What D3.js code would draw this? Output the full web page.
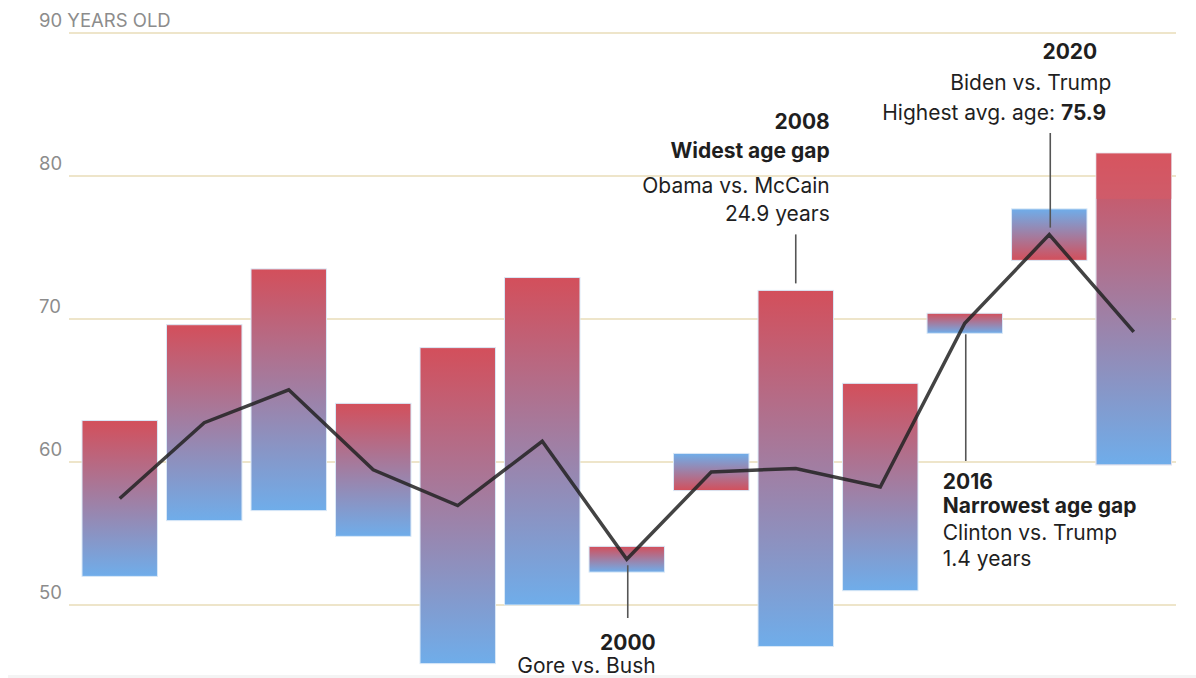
<!DOCTYPE html>
<html>
<head>
<meta charset="utf-8">
<script src="https://cdn.jsdelivr.net/npm/d3@7"></script>
<style>
  html, body { margin: 0; padding: 0; background: #ffffff; }
  svg { display: block; font-family: Inter, "Open Sans", sans-serif; }
</style>
</head>
<body>
<svg id="chart" width="1196" height="678"></svg>
<script>
// Election years
const years = [1976, 1980, 1984, 1988, 1992, 1996, 2000, 2004, 2008, 2012, 2016, 2020, 2024];
// Age of the Republican nominee on election day
const repAges = [62.9, 69.6, 73.5, 64.1, 68.0, 72.9, 54.1, 58.0, 72.0, 65.5, 70.4, 74.1, 78.4];
// Age of the Democratic nominee on election day
const demAges = [52.0, 55.9, 56.6, 54.8, 45.9, 50.0, 52.3, 60.6, 47.1, 51.0, 69.0, 77.7, 59.8];
// 2024: age of the Democratic incumbent before withdrawing
const withdrawnYears = [2024];
const withdrawnAges = [81.6];
// Y axis ticks
const yTicks = [50, 60, 70, 80, 90];
const yTickLabels = ["50", "60", "70", "80", "90 YEARS OLD"];

const data = years.map((y, i) => ({
  year: y, rep: repAges[i], dem: demAges[i], avg: (repAges[i] + demAges[i]) / 2
}));

const RED = "#d34f5b";
const BLUE = "#6fadea";

const svg = d3.select("#chart");

const x = d3.scaleBand()
  .domain(years)
  .range([77.5, 1176])
  .paddingInner(0.107)
  .paddingOuter(0.0533);

const y = d3.scaleLinear().domain([50, 90]).range([605, 33]);

// faint strip along the bottom edge
svg.append("rect")
  .attr("x", 8).attr("y", 675).attr("width", 1188).attr("height", 3)
  .attr("fill", "#f4f4f4");

// gridlines + labels
const grid = svg.append("g");
grid.selectAll("line").data(yTicks).join("line")
  .attr("x1", 69).attr("x2", 1176)
  .attr("y1", d => y(d)).attr("y2", d => y(d))
  .attr("stroke", "#e9ddb8").attr("stroke-width", 1.5);
grid.selectAll("text").data(yTicks).join("text")
  .attr("x", 39).attr("y", d => y(d) - 6)
  .attr("fill", "#8c8c8c").attr("font-size", 18.5)
  .text((d, i) => yTickLabels[i]);

// per-bar gradients running from the Republican age (red) to the Democratic age (blue)
const defs = svg.append("defs");
data.forEach((d, i) => {
  const g = defs.append("linearGradient")
    .attr("id", "grad" + i)
    .attr("gradientUnits", "userSpaceOnUse")
    .attr("x1", 0).attr("x2", 0)
    .attr("y1", y(d.rep)).attr("y2", y(d.dem));
  g.append("stop").attr("offset", 0).attr("stop-color", RED);
  g.append("stop").attr("offset", 1).attr("stop-color", BLUE);
});

const bars = svg.append("g");
bars.selectAll("rect.range").data(data).join("rect")
  .attr("class", "range")
  .attr("x", d => x(d.year))
  .attr("width", x.bandwidth())
  .attr("y", d => y(Math.max(d.rep, d.dem)))
  .attr("height", d => Math.abs(y(d.rep) - y(d.dem)))
  .attr("fill", (d, i) => `url(#grad${i})`)
  .attr("stroke", "#d9e8f7").attr("stroke-width", 1);

// 2024: range up to the withdrawn nominee's age
const wd = withdrawnYears.map((yr, i) => {
  const d = data.find(e => e.year === yr);
  return { year: yr, top: withdrawnAges[i], rep: d.rep, dem: d.dem };
});
wd.forEach((d, i) => {
  const g = defs.append("linearGradient")
    .attr("id", "gradW" + i)
    .attr("gradientUnits", "userSpaceOnUse")
    .attr("x1", 0).attr("x2", 0)
    .attr("y1", y(d.top)).attr("y2", y(d.dem));
  g.append("stop").attr("offset", 0).attr("stop-color", RED);
  g.append("stop").attr("offset", 1).attr("stop-color", BLUE);
});
bars.selectAll("rect.wfull").data(wd).join("rect")
  .attr("class", "wfull")
  .attr("x", d => x(d.year))
  .attr("width", x.bandwidth())
  .attr("y", d => y(d.top))
  .attr("height", d => y(d.dem) - y(d.top))
  .attr("fill", (d, i) => `url(#gradW${i})`)
  .attr("stroke", "#e6e0ea").attr("stroke-width", 1);
bars.selectAll("rect.wtop").data(wd).join("rect")
  .attr("class", "wtop")
  .attr("x", d => x(d.year))
  .attr("width", x.bandwidth())
  .attr("y", d => y(d.top))
  .attr("height", d => y(d.rep) - y(d.top))
  .attr("fill", "#dc5a64").attr("opacity", 0.45);

// average-age line
const line = d3.line()
  .x(d => x(d.year) + x.bandwidth() / 2)
  .y(d => y(d.avg));
svg.append("path")
  .datum(data)
  .attr("d", line)
  .attr("fill", "none")
  .attr("stroke", "#222")
  .attr("stroke-opacity", 0.85)
  .attr("stroke-width", 3.5)
  .attr("stroke-linejoin", "miter");

// annotations
const ann = svg.append("g").attr("fill", "#1f1f1f").attr("font-size", 21);
const cx = yr => x(yr) + x.bandwidth() / 2;
const byYear = yr => data.find(d => d.year === yr);
const leader = (x0, y0, y1) => svg.append("line")
  .attr("x1", x0).attr("x2", x0).attr("y1", y0).attr("y2", y1)
  .attr("stroke", "#555").attr("stroke-width", 1.6);

function textLine(xp, yp, anchor, parts) {
  const t = ann.append("text").attr("x", xp).attr("y", yp).attr("text-anchor", anchor);
  parts.forEach(p => t.append("tspan").attr("font-weight", p[1] ? 700 : 400).text(p[0]));
  return t;
}

// 2000
{
  const d = byYear(2000), c = cx(2000);
  leader(c + 1, y(d.avg) + 6, 618);
  textLine(c + 29, 650, "end", [["2000", true]]);
  textLine(c + 29, 673, "end", [["Gore vs. Bush", false]]);
}
// 2008
{
  const d = byYear(2008), c = cx(2008);
  leader(c, y(d.rep) - 56, y(d.rep) - 7);
  textLine(c + 34, 129, "end", [["2008", true]]);
  textLine(c + 34, 158, "end", [["Widest age gap", true]]);
  textLine(c + 34, 193, "end", [["Obama vs. McCain", false]]);
  textLine(c + 34, 221, "end", [[(d.rep - d.dem).toFixed(1) + " years", false]]);
}
// 2016
{
  const d = byYear(2016), c = cx(2016);
  leader(c + 1, y(d.dem) + 1, 461);
  textLine(c - 22, 489, "start", [["2016", true]]);
  textLine(c - 22, 513, "start", [["Narrowest age gap", true]]);
  textLine(c - 22, 540, "start", [["Clinton vs. Trump", false]]);
  textLine(c - 22, 566, "start", [[(d.rep - d.dem).toFixed(1) + " years", false]]);
}
// 2020
{
  const d = byYear(2020), c = cx(2020);
  leader(c + 1, 133, y(d.avg) - 7);
  textLine(c + 48, 59, "end", [["2020", true]]);
  textLine(c + 62, 90, "end", [["Biden vs. Trump", false]]);
  textLine(c + 57, 120, "end", [["Highest avg. age: ", false], [d.avg.toFixed(1), true]]);
}
</script>
</body>
</html>
